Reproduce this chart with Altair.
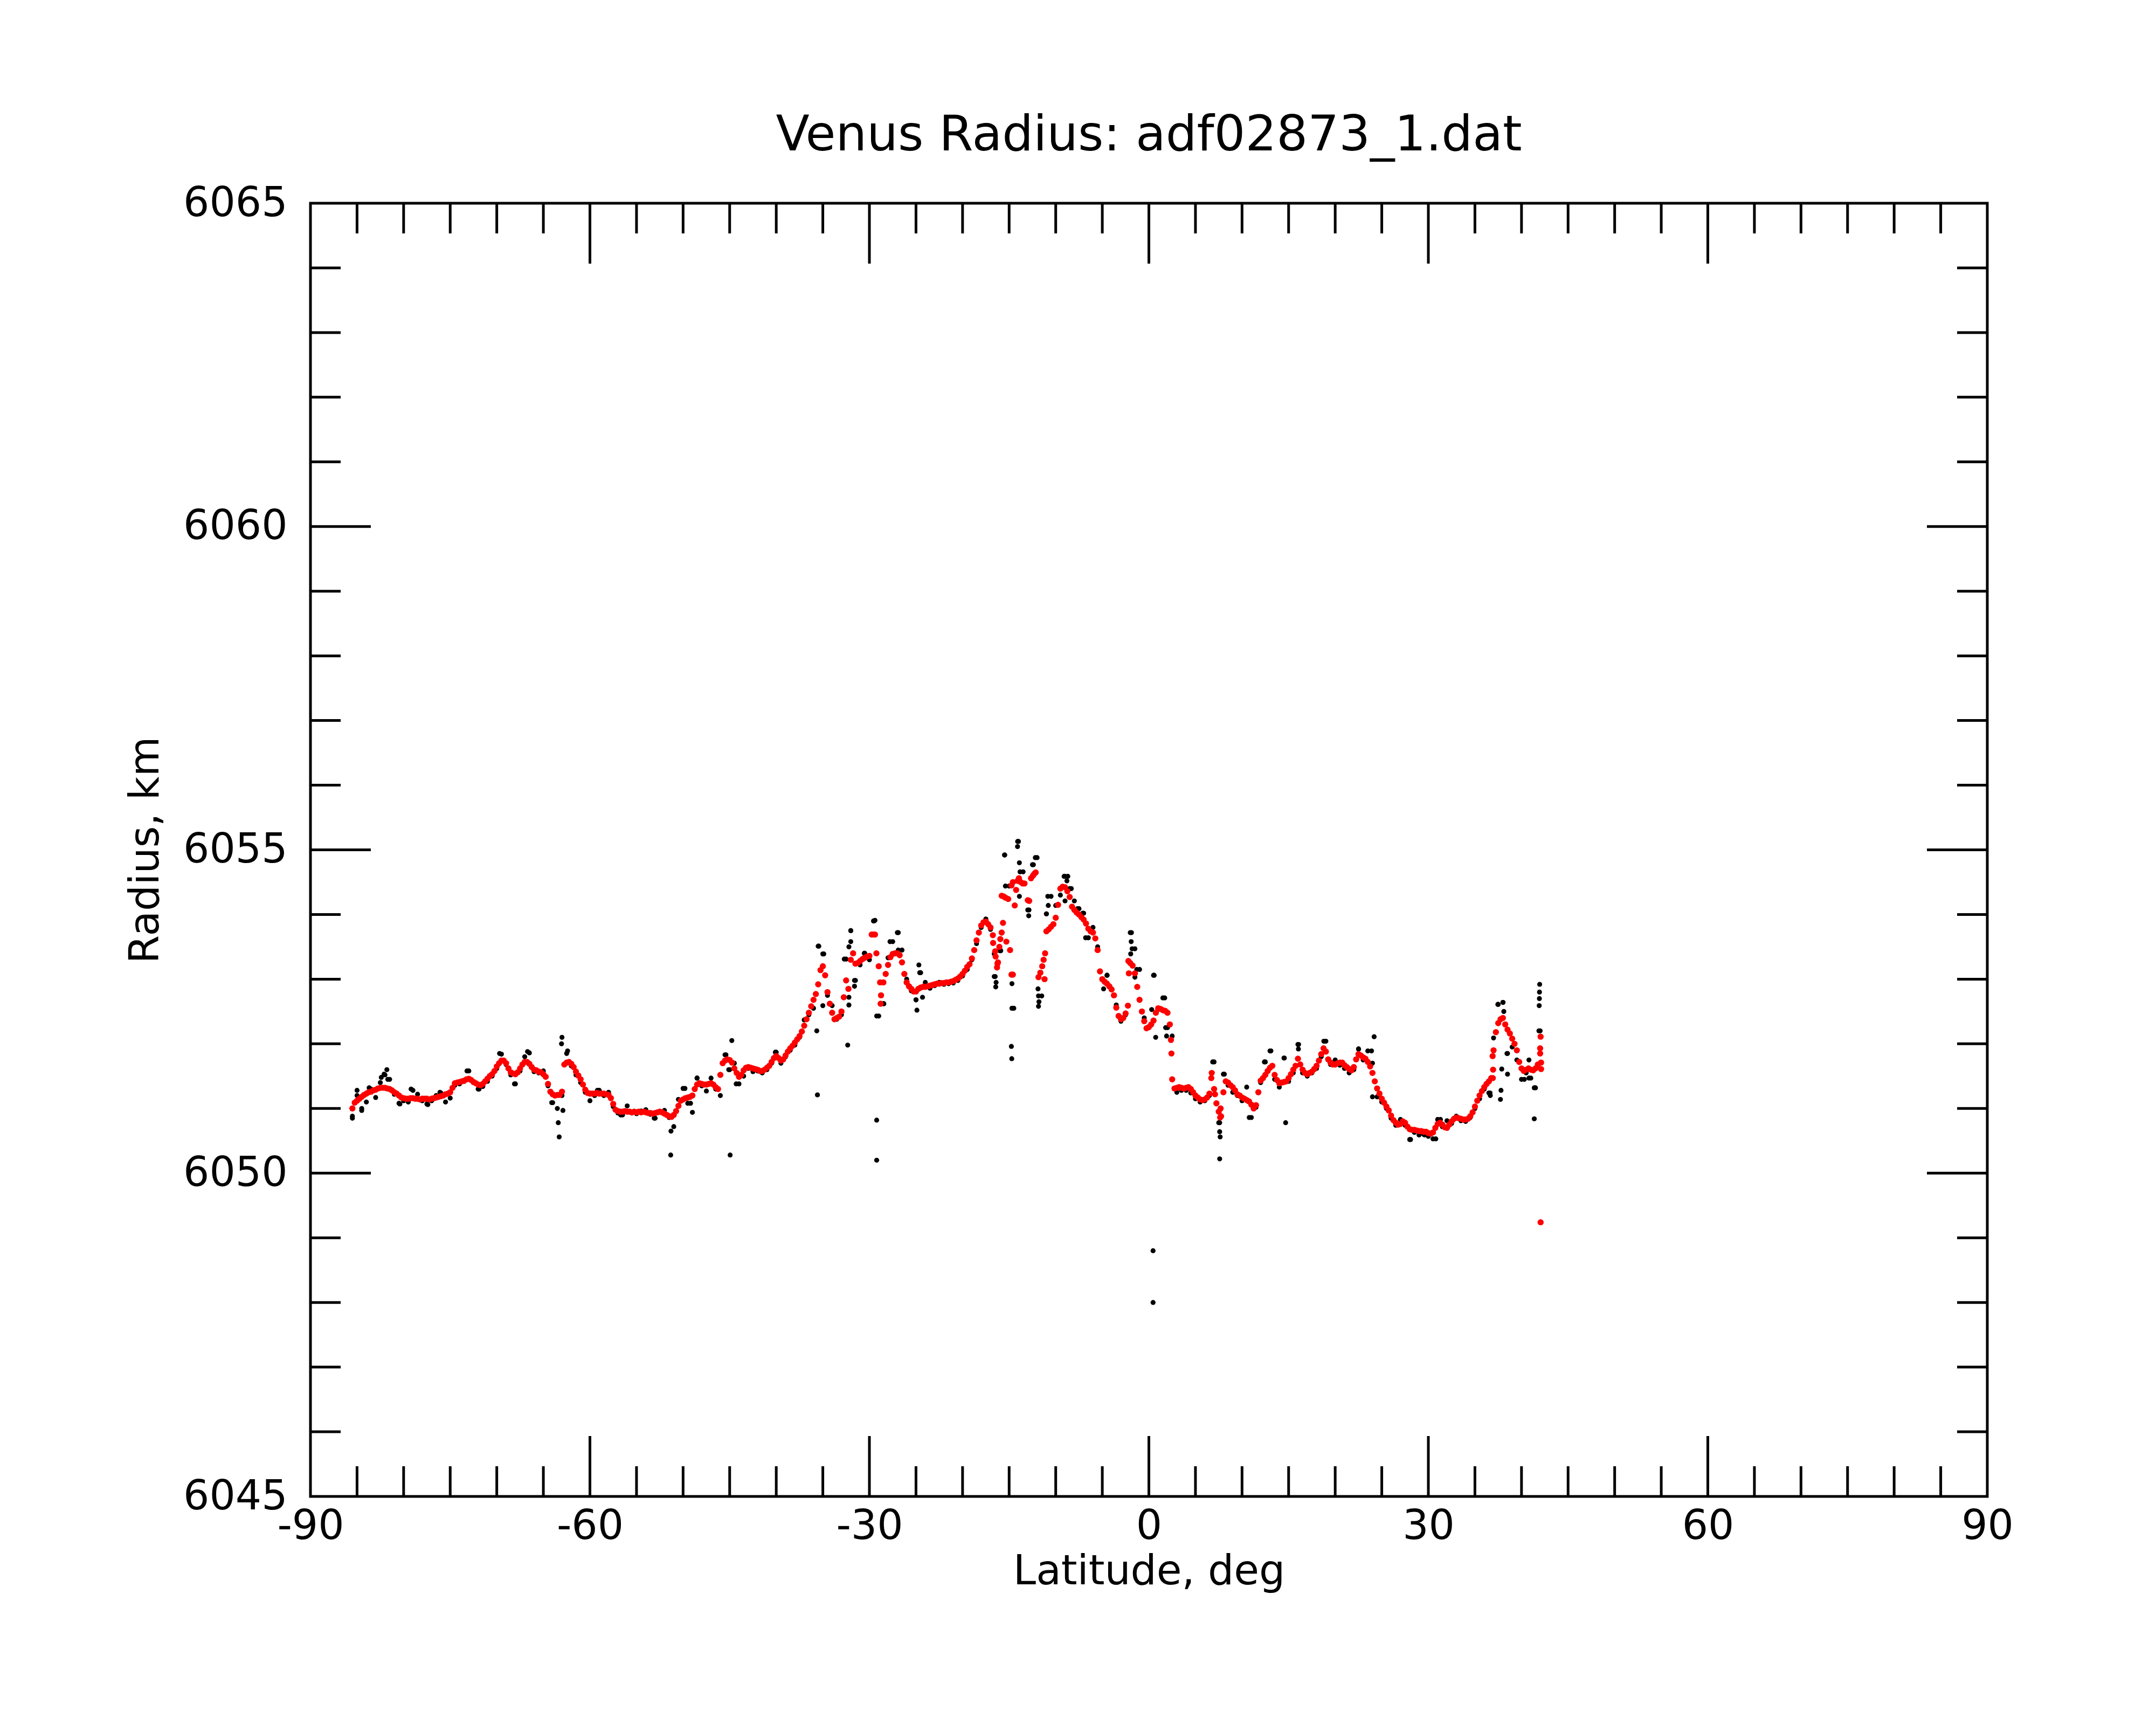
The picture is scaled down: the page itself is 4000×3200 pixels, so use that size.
import altair as alt
import numpy as np
import pandas as pd

TITLE = "Venus Radius: adf02873_1.dat"
X_TITLE = "Latitude, deg"
Y_TITLE = "Radius, km"
X_DOMAIN = [-90, 90]
Y_DOMAIN = [6045, 6065]
X_LABELS = [-90, -60, -30, 0, 30, 60, 90]
Y_LABELS = [6045, 6050, 6055, 6060, 6065]
X_MAJOR = [-60, -30, 0, 30, 60]
X_MINOR = [v for v in range(-85, 90, 5) if v % 30 != 0]
Y_MAJOR = [6050, 6055, 6060]
Y_MINOR = [v for v in range(6046, 6065) if v % 5 != 0]

# red series: latitude -85.5 .. 42.0 every 0.25 deg
RED_START, RED_STEP = -85.5, 0.25
N = None
RED_R = [
    6051.00, 6051.09, 6051.12, 6051.15, 6051.18, 6051.21, 6051.23, 6051.25, 6051.26, 6051.28, 6051.29, 6051.31, 6051.32, 6051.32, 6051.32, 6051.31, 6051.30, 6051.28, 6051.25, 6051.23,
    6051.20, 6051.17, 6051.16, 6051.15, 6051.15, 6051.16, 6051.16, 6051.15, 6051.15, 6051.14, 6051.15, 6051.15, 6051.15, 6051.14, 6051.15, 6051.16, 6051.17, 6051.18, 6051.19, 6051.20,
    6051.22, 6051.23, 6051.25, 6051.32, 6051.39, 6051.40, 6051.41, 6051.42, 6051.43, 6051.45, 6051.46, 6051.44, 6051.41, 6051.39, 6051.37, 6051.36, 6051.38, 6051.42, 6051.46, 6051.50,
    6051.53, 6051.58, 6051.65, 6051.70, 6051.74, 6051.74, 6051.70, 6051.62, 6051.56, 6051.54, 6051.53, 6051.56, 6051.62, 6051.68, 6051.72, 6051.72, 6051.69, 6051.64, 6051.60, 6051.59,
    6051.57, 6051.56, 6051.53, 6051.49, 6051.38, 6051.26, 6051.22, 6051.20, 6051.21, 6051.21, 6051.26, 6051.68, 6051.71, 6051.72, 6051.69, 6051.64, 6051.57, 6051.51, 6051.45, 6051.37,
    6051.29, 6051.24, 6051.23, 6051.23, 6051.23, 6051.24, 6051.23, 6051.23, 6051.23, 6051.22, 6051.21, 6051.16, 6051.07, 6050.98, 6050.96, 6050.95, 6050.95, 6050.96, 6050.95, 6050.95,
    6050.94, 6050.95, 6050.94, 6050.95, 6050.94, 6050.95, 6050.94, 6050.93, 6050.93, 6050.92, 6050.93, 6050.94, 6050.95, 6050.94, 6050.92, 6050.90, 6050.88, 6050.87, 6050.90, 6050.96,
    6051.04, 6051.12, 6051.14, 6051.16, 6051.17, 6051.18, 6051.20, 6051.30, 6051.37, 6051.39, 6051.38, 6051.37, 6051.37, 6051.38, 6051.39, 6051.37, 6051.33, 6051.30, 6051.52, 6051.70,
    6051.74, 6051.76, 6051.75, 6051.71, 6051.62, 6051.55, 6051.49, 6051.52, 6051.59, 6051.63, 6051.64, 6051.63, 6051.62, 6051.61, 6051.60, 6051.58, 6051.58, 6051.60, 6051.63, 6051.66,
    6051.72, 6051.78, 6051.81, 6051.78, 6051.74, 6051.76, 6051.82, 6051.88, 6051.93, 6051.97, 6052.02, 6052.07, 6052.12, 6052.19, 6052.28, 6052.38, 6052.48, 6052.58, 6052.68, 6052.77,
    6052.92, 6053.14, 6053.20, 6053.06, 6052.80, 6052.62, 6052.48, 6052.38, 6052.40, 6052.42, 6052.50, 6052.72, 6052.98, 6052.85, 6053.30, 6053.40, 6053.24, 6053.25, 6053.28, 6053.31,
    6053.33, 6053.35, 6053.36, 6053.69, 6053.69, 6053.40, 6053.20, 6052.75, 6052.95, 6053.08, 6053.22, 6053.34, 6053.39, 6053.40, 6053.40, 6053.37, 6053.26, 6053.08, 6052.95, 6052.89,
    6052.85, 6052.81, 6052.81, 6052.85, 6052.87, 6052.88, 6052.88, 6052.89, 6052.90, 6052.91, 6052.92, 6052.93, 6052.93, 6052.94, 6052.94, 6052.95, 6052.95, 6052.96, 6052.97, 6052.99,
    6053.01, 6053.04, 6053.08, 6053.13, 6053.19, 6053.23, 6053.32, 6053.45, 6053.60, 6053.72, 6053.83, 6053.88, 6053.89, 6053.85, 6053.80, 6053.68, 6053.43, 6053.24, N, N,
    N, N, N, N, N, N, N, N, N, N, N, N, N, N, N, N, N, N, 6053.74, 6053.77,
    6053.81, 6053.85, 6053.95, 6054.15, 6054.40, 6054.43, 6054.42, 6054.36, 6054.27, 6054.12, 6054.07, 6054.03, 6054.00, 6053.96, 6053.92, 6053.86, 6053.78, 6053.74, 6053.72, 6053.63,
    6053.45, 6053.12, 6053.00, 6052.96, 6052.93, 6052.89, 6052.84, 6052.75, 6052.56, 6052.43, 6052.38, 6052.40, 6052.47, 6052.59, 6053.25, 6053.21, 6053.09, 6052.88, 6052.68, 6052.50,
    6052.35, 6052.24, 6052.26, 6052.30, 6052.36, 6052.48, 6052.55, 6052.54, 6052.52, 6052.51, 6052.48, 6052.30, 6051.45, 6051.31, 6051.32, 6051.33, 6051.32, 6051.31, 6051.32, 6051.33,
    6051.30, 6051.25, 6051.20, 6051.17, 6051.14, 6051.13, 6051.14, 6051.17, 6051.23, 6051.55, 6051.30, 6051.08, 6050.95, 6050.88, 6051.25, 6051.42, 6051.40, 6051.36, 6051.33, 6051.28,
    6051.22, 6051.20, 6051.17, 6051.15, 6051.13, 6051.11, 6051.06, 6051.00, 6051.05, 6051.25, 6051.43, 6051.47, 6051.52, 6051.58, 6051.63, 6051.66, 6051.52, 6051.44, 6051.39, 6051.40,
    6051.41, 6051.42, 6051.47, 6051.53, 6051.60, 6051.66, 6051.77, 6051.68, 6051.60, 6051.55, 6051.53, 6051.55, 6051.57, 6051.61, 6051.66, 6051.74, 6051.84, 6051.93, 6051.88, 6051.76,
    6051.71, 6051.68, 6051.68, 6051.70, 6051.71, 6051.71, 6051.67, 6051.64, 6051.61, 6051.59, 6051.64, 6051.76, 6051.84, 6051.82, 6051.79, 6051.77, 6051.72, 6051.65, 6051.55, 6051.42,
    6051.31, 6051.23, 6051.15, 6051.09, 6051.03, 6050.97, 6050.89, 6050.82, 6050.78, 6050.75, 6050.76, 6050.80, 6050.78, 6050.72, 6050.68, 6050.67, 6050.67, 6050.66, 6050.65, 6050.65,
    6050.64, 6050.64, 6050.62, 6050.61, 6050.63, 6050.70, 6050.76, 6050.78, 6050.75, 6050.71, 6050.70, 6050.75, 6050.80, 6050.84, 6050.86, 6050.85, 6050.84, 6050.83, 6050.83, 6050.84,
    6050.88, 6050.94, 6051.03, 6051.12, 6051.20, 6051.27, 6051.33, 6051.38, 6051.42, 6051.47, 6051.90, 6052.18, 6052.32, 6052.38, 6052.40, 6052.30, 6052.22, 6052.16, 6052.08, 6052.00,
    6051.90, 6051.72, 6051.62, 6051.58, 6051.60, 6051.62, 6051.60, 6051.59, 6051.62, 6051.68, 6051.85,
]

# scattered red points
RED_EXTRA_LAT = [-28.8, -28.85, -29.7, -29.4,
                 -16.72, -16.45, -16.3, -16.2, -16.05, -15.95, -15.8, -15.66, -15.3, -14.9, -14.75, -14.6,
                 -15.8, -15.6, -15.4, -15.1, -14.75, -14.6, -14.4, -14.25, -14.1, -13.95, -13.75, -13.55,
                 -13.35, -13.0, -12.85, -12.65, -12.45, -12.3, -12.15,
                 -11.85, -11.65, -11.45, -11.3, -11.14, -11.2,
                 -2.2, -2.15, 2.37, 2.42, 6.7, 7.1, 7.65, 7.7,
                 36.9, 36.95, 36.92, 42.05, 42.0, 42.1, 42.1, 42.05]
RED_EXTRA_R = [6052.62, 6052.95, 6053.69, 6053.69,
               6053.56, 6053.35, 6053.18, 6053.26, 6053.50, 6053.62, 6053.72, 6053.87, 6053.58, 6053.45, 6053.07, 6053.07,
               6054.29, 6054.28, 6054.26, 6054.24, 6054.45, 6054.50, 6054.14, 6054.38, 6054.52, 6054.56, 6054.50, 6054.48,
               6054.48, 6054.22, 6054.21, 6054.56, 6054.60, 6054.63, 6054.65,
               6053.03, 6053.10, 6053.20, 6053.30, 6053.40, 6053.00,
               6053.28, 6053.09, 6052.06, 6051.85, 6051.47, 6051.22, 6050.86, 6051.00,
               6051.81, 6051.60, 6051.47, 6052.11, 6051.93, 6051.71, 6051.61, 6049.24]

# black series: latitude -85.5 .. 42.0 every 0.5 deg
BLACK_START, BLACK_STEP = -85.5, 0.5
BLACK_R = [
    6050.88, 6051.20, 6051.00, 6051.10, 6051.30, 6051.17, 6051.40, 6051.52, 6051.45, 6051.22,
    6051.08, 6051.12, 6051.10, 6051.28, 6051.22, 6051.12, 6051.07, 6051.12, 6051.20, 6051.24,
    6051.10, 6051.16, 6051.36, 6051.38, 6051.42, 6051.58, 6051.40, 6051.30, 6051.34, 6051.42,
    6051.50, 6051.62, 6051.84, 6051.68, 6051.52, 6051.38, 6051.58, 6051.80, 6051.86, 6051.57,
    6051.55, 6051.58, 6051.35, 6051.09, 6051.00, 6051.20, 6051.85, 6051.66, 6051.52, 6051.40,
    6051.25, 6051.12, 6051.20, 6051.28, 6051.20, 6051.25, 6051.03, 6050.93, 6050.90, 6051.04,
    6050.93, 6050.92, 6050.96, 6050.98, 6050.91, 6050.85, 6050.95, 6050.97, 6050.86, 6050.72,
    6051.14, 6051.31, 6051.08, 6050.94, 6051.47, 6051.35, 6051.27, 6051.47, 6051.30, 6051.20,
    6051.83, 6051.60, 6051.70, 6051.38, 6051.50, 6051.62, 6051.57, 6051.58, 6051.55, 6051.60,
    6051.70, 6051.87, 6051.70, 6051.80, 6051.90, 6051.98, 6052.10, 6052.37, 6052.45, 6052.55,
    6053.51, 6053.39, 6052.75, 6052.59, 6052.38, 6052.45, 6053.31, 6053.75, 6052.98, 6053.22,
    6053.40, 6053.30, 6053.90, 6052.43, 6052.62, 6053.33, 6053.58, 6053.72, 6053.45, 6053.00,
    6052.82, 6052.68, 6053.10, 6052.95, 6052.86, 6052.90, 6052.95, 6052.92, 6052.93, 6052.94,
    6052.98, 6053.05, 6053.15, 6053.30, 6053.55, 6053.80, 6053.93, 6053.77, 6053.04, 6053.44,
    6054.92, 6054.44, 6052.55, 6055.13, 6054.66, 6054.07, 6054.77, 6054.88, 6052.74, 6054.01,
    6054.28, 6054.14, 6054.30, 6054.59, 6054.40, 6054.21, 6054.09, 6054.02, 6053.64, 6053.80,
    6053.50, 6052.99, 6053.06, 6052.85, 6052.60, 6052.35, 6052.45, 6053.72, 6053.47, 6053.15,
    6052.40, 6052.25, 6053.06, 6052.53, 6052.71, 6052.25, 6052.12, 6051.25, 6051.28, 6051.28,
    6051.24, 6051.15, 6051.10, 6051.12, 6051.20, 6051.72, 6050.78, 6051.53, 6051.36, 6051.25,
    6051.20, 6051.12, 6051.33, 6050.86, 6051.02, 6051.40, 6051.72, 6051.89, 6051.45, 6051.33,
    6051.78, 6051.42, 6051.55, 6051.99, 6051.55, 6051.50, 6051.55, 6051.62, 6051.80, 6052.04,
    6051.68, 6051.75, 6051.67, 6051.62, 6051.55, 6051.60, 6051.92, 6051.75, 6051.89, 6051.70,
    6051.18, 6051.10, 6051.00, 6050.85, 6050.74, 6050.83, 6050.74, 6050.52, 6050.63, 6050.59,
    6050.60, 6050.57, 6050.53, 6050.83, 6050.72, 6050.81, 6050.77, 6050.88, 6050.81, 6050.80,
    6050.86, 6051.00, 6051.15, 6051.30, 6051.24, 6052.09, 6052.61, 6052.64, 6051.85, 6051.95,
    6051.75, 6051.45, 6051.55, 6051.47, 6051.32, 6052.20,
]

# scattered black points
BLACK_OUT_LAT = [-85.5, -85.0, -84.5, -83.7, -82.4, -82.1, -81.8, -81.7, -80.4, -79.2, -77.4, -76.1,
                 -73.2, -71.9, -69.7, -68.1, -66.7, -64.1, -63.0, -63.05, -62.4, -63.4, -63.3, -62.9,
                 -59.2, -56.7, -53.1, -51.33, -51.3, -49.2, -49.8, -48.5, -45.4, -44.77, -45.1, -44.3,
                 -44.95, -40.1, -35.65, -35.58, -35.43, -34.9, -35.0, -32.7, -32.33, -32.0, -32.0, -32.2,
                 -31.6, -31.6, -32.2, -32.2, -30.55, -29.56, -29.4, -29.22, -29.22, -29.22, -28.45, -27.79,
                 -26.9, -26.9, -24.69, -24.6, -24.9, -25.0, -24.3,
                 -15.47, -14.09, -14.1, -13.9, -13.83, -12.19, -12.4, -15.4, -13.9, -12.87, -12.9, -10.85,
                 -10.8, -11.0, -9.1, -8.7, -8.8, -8.33, -9.0, -7.66, -7.1, -6.79, -4.48, -4.86,
                 -1.87, -1.9, -1.8, -1.95, -1.3, -1.5, 0.57, 1.7, 0.3, 1.8, 0.73, 1.9,
                 -16.44, -16.4, -16.6, -14.7, -14.7, -11.9, -11.85, -11.8, -11.85, -16.6, -15.9, -14.76,
                 -14.72, 0.45, 0.45,
                 24.18, 23.9, 24.0, 6.85, 7.6, 7.6, 7.65, 7.6, 8.1, 10.77, 12.4, 13.1, 14.54, 14.68,
                 16.07, 16.05, 18.78, 22.51, 36.62, 36.65, 37.46, 38.02, 38.1, 37.88, 37.74, 37.8,
                 38.44, 38.5, 40.8, 40.3, 40.8, 41.37, 41.37, 41.87, 41.9, 41.92, 41.93, 41.95,
                 28.09, 30.8, 29.6, 31.3]
BLACK_OUT_R = [6050.85, 6051.28, 6050.97, 6051.32, 6051.48, 6051.53, 6051.60, 6051.45, 6051.07, 6051.30, 6051.06, 6051.25,
               6051.58, 6051.30, 6051.85, 6051.38, 6051.88, 6051.09, 6052.10, 6052.00, 6051.89, 6050.78, 6050.56, 6050.97,
               6051.28, 6050.90, 6050.85, 6050.28, 6050.65, 6051.08, 6051.31, 6051.47, 6051.83, 6052.05, 6051.60, 6051.38,
               6050.28, 6051.87, 6052.20, 6051.21, 6053.51, 6053.39, 6052.59, 6053.31, 6051.98, 6053.75, 6053.58, 6053.50,
               6052.98, 6052.89, 6052.72, 6052.60, 6053.40, 6053.90, 6053.91, 6052.43, 6050.82, 6050.20, 6052.62, 6053.58,
               6053.72, 6053.45, 6053.22, 6053.10, 6052.52, 6052.68, 6052.72,
               6054.92, 6055.13, 6055.05, 6054.80, 6054.66, 6054.88, 6054.77, 6054.44, 6054.28, 6054.07, 6053.98, 6054.28,
               6054.14, 6054.01, 6054.59, 6054.59, 6054.52, 6054.40, 6054.21, 6054.09, 6054.02, 6053.64, 6053.06, 6052.85,
               6053.72, 6053.58, 6053.47, 6053.39, 6053.15, 6053.03, 6053.06, 6052.71, 6052.53, 6052.25, 6052.10, 6052.12,
               6052.88, 6052.95, 6053.04, 6052.55, 6052.93, 6052.85, 6052.74, 6052.65, 6052.58, 6053.39, 6053.44, 6051.96,
               6051.77, 6048.80, 6048.00,
               6052.11, 6051.89, 6051.18, 6051.72, 6050.78, 6050.64, 6050.56, 6050.22, 6051.53, 6050.86, 6051.72, 6051.89, 6051.78, 6050.78,
               6051.99, 6051.92, 6052.04, 6051.92, 6051.24, 6051.20, 6052.61, 6052.64, 6052.50, 6051.61, 6051.14, 6051.28,
               6051.85, 6051.53, 6051.75, 6051.45, 6051.47, 6051.32, 6050.84, 6052.20, 6052.59, 6052.70, 6052.80, 6052.92,
               6050.52, 6050.53, 6050.59, 6050.83]

red_lat = np.round(RED_START + RED_STEP * np.arange(len(RED_R)), 3)
black_lat = np.round(BLACK_START + BLACK_STEP * np.arange(len(BLACK_R)), 3)

red_df = pd.concat([
    pd.DataFrame({"lat": red_lat, "r": RED_R}),
    pd.DataFrame({"lat": RED_EXTRA_LAT, "r": RED_EXTRA_R}),
]).dropna()
black_df = pd.concat([
    pd.DataFrame({"lat": black_lat, "r": BLACK_R}),
    pd.DataFrame({"lat": BLACK_OUT_LAT, "r": BLACK_OUT_R}),
]).dropna()

W, H = 3111, 2399
FONT = "DejaVu Sans"
FS = 76
MAJ, MIN = 112, 56
TW = 5

xs = alt.Scale(domain=X_DOMAIN, nice=False, zero=False)
ys = alt.Scale(domain=Y_DOMAIN, nice=False, zero=False)

x_axis = alt.Axis(values=X_LABELS, labelExpr="'' + datum.value", ticks=False, tickSize=0,
                  domain=False, grid=False, labelFont=FONT, labelFontSize=FS, labelColor="black",
                  labelPadding=18, labelFlush=False, labelOverlap=False, labelBound=False, labelLimit=1000,
                  title=X_TITLE, titleFont=FONT, titleFontSize=FS, titleFontWeight="normal",
                  titleColor="black", titleY=162, titleBaseline="alphabetic", titleLimit=3000)
y_axis = alt.Axis(values=Y_LABELS, labelExpr="'' + datum.value", ticks=False, tickSize=0,
                  domain=False, grid=False, labelFont=FONT, labelFontSize=FS, labelColor="black",
                  labelPadding=43, labelFlush=False, labelOverlap=False, labelBound=False, labelLimit=1000,
                  title=Y_TITLE, titleFont=FONT, titleFontSize=FS, titleFontWeight="normal",
                  titleColor="black", titleX=-283, titleY=H / 2, titleAngle=270,
                  titleAlign="center", titleBaseline="alphabetic", titleLimit=3000)

xe = alt.X("lat:Q", scale=xs, axis=x_axis)
ye = alt.Y("r:Q", scale=ys, axis=y_axis)

black = alt.Chart(black_df).mark_circle(size=85, color="black", opacity=1).encode(x=xe, y=ye)
red = alt.Chart(red_df).mark_circle(size=130, color="#ff0000", opacity=1).encode(x=xe, y=ye)

xmaj = pd.DataFrame({"lat": X_MAJOR})
xmin = pd.DataFrame({"lat": X_MINOR})
ymaj = pd.DataFrame({"r": Y_MAJOR})
ymin = pd.DataFrame({"r": Y_MINOR})


def xr(df, y0, y1):
    return alt.Chart(df).mark_rule(color="black", strokeWidth=TW).encode(
        x=xe, y=alt.value(y0), y2=alt.value(y1))


def yr(df, x0, x1):
    return alt.Chart(df).mark_rule(color="black", strokeWidth=TW).encode(
        y=ye, x=alt.value(x0), x2=alt.value(x1))


ticks = [
    xr(xmaj, H, H - MAJ), xr(xmin, H, H - MIN), xr(xmaj, 0, MAJ), xr(xmin, 0, MIN),
    yr(ymaj, 0, MAJ), yr(ymin, 0, MIN), yr(ymaj, W, W - MAJ), yr(ymin, W, W - MIN),
]

chart = alt.layer(black, red, *ticks).properties(
    width=W, height=H,
    title=alt.TitleParams(TITLE, font=FONT, fontSize=91, fontWeight="normal", color="black",
                          anchor="middle", baseline="alphabetic", offset=78, dy=109),
    autosize=alt.AutoSizeParams(type="none"),
    padding={"left": 568, "top": 369, "right": 300, "bottom": 400},
    background="white",
).configure_view(stroke="black", strokeWidth=5)

chart.save("out.html", embed_options={"renderer": "svg", "actions": False})
